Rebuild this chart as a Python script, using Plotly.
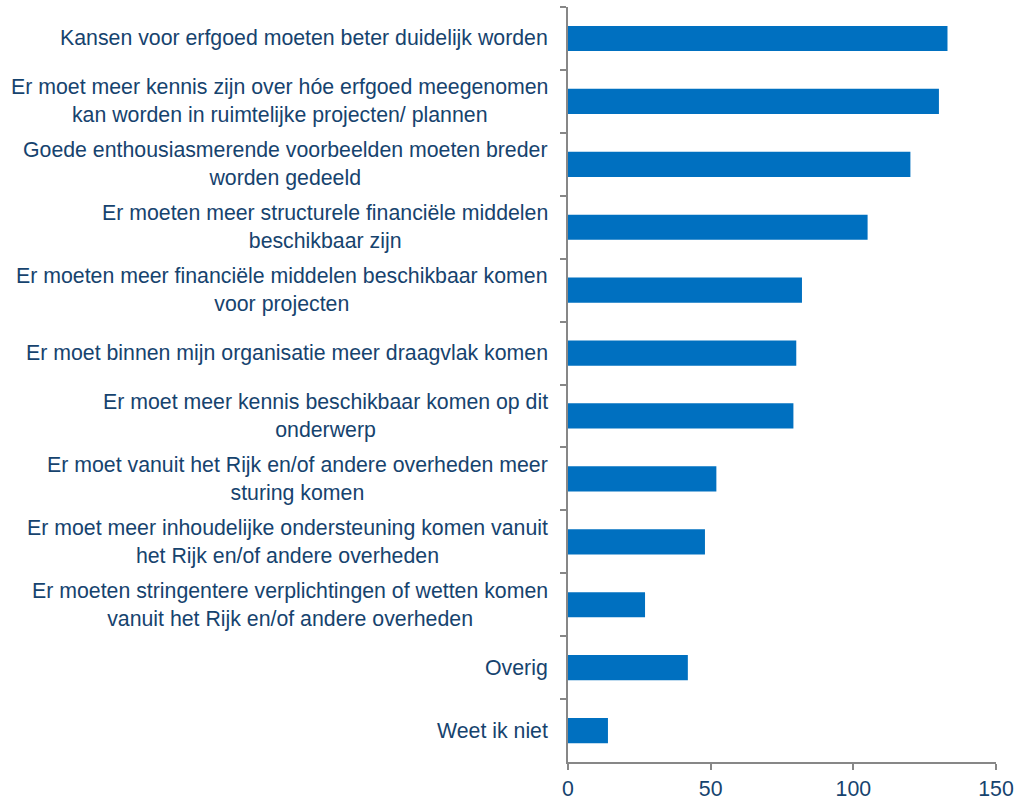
import plotly.graph_objects as go

categories = [
    "Kansen voor erfgoed moeten beter duidelijk worden",
    "Er moet meer kennis zijn over hóe erfgoed meegenomen<br>kan worden in ruimtelijke projecten/ plannen",
    "Goede enthousiasmerende voorbeelden moeten breder<br>worden gedeeld",
    "Er moeten meer structurele financiële middelen<br>beschikbaar zijn",
    "Er moeten meer financiële middelen beschikbaar komen<br>voor projecten",
    "Er moet binnen mijn organisatie meer draagvlak komen",
    "Er moet meer kennis beschikbaar komen op dit<br>onderwerp",
    "Er moet vanuit het Rijk en/of andere overheden meer<br>sturing komen",
    "Er moet meer inhoudelijke ondersteuning komen vanuit<br>het Rijk en/of andere overheden",
    "Er moeten stringentere verplichtingen of wetten komen<br>vanuit het Rijk en/of andere overheden",
    "Overig",
    "Weet ik niet",
]
values = [133, 130, 120, 105, 82, 80, 79, 52, 48, 27, 42, 14]
x_ticks = [0, 50, 100, 150]

TEXT = "#16436E"
BAR = "#0070C0"
AXIS = "#878787"
FONT = "Liberation Sans, Arial, sans-serif"
FS = 21.3

fig = go.Figure(go.Bar(
    x=values, y=categories, orientation="h",
    marker=dict(color=BAR, line=dict(width=0)),
    width=0.4,
    hoverinfo="skip",
))

for c in categories:
    fig.add_annotation(
        x=0, xref="paper", y=c, yref="y",
        text=c, showarrow=False, xanchor="right", yanchor="middle",
        xshift=-18, align="center",
        font=dict(family=FONT, size=FS, color=TEXT),
    )

fig.update_layout(
    width=1023, height=798,
    margin=dict(l=568, r=27, t=7, b=36),
    paper_bgcolor="white", plot_bgcolor="white",
    showlegend=False,
    font=dict(family=FONT, size=FS, color=TEXT),
)
fig.update_xaxes(
    range=[0, 150], tickvals=x_ticks, ticktext=[str(v) for v in x_ticks],
    showgrid=False, zeroline=False, showline=True, linecolor=AXIS, linewidth=2,
    ticks="outside", ticklen=6, tickcolor=AXIS, tickwidth=2,
    tickfont=dict(family=FONT, size=FS, color=TEXT),
    automargin=False,
)
fig.update_yaxes(
    categoryorder="array", categoryarray=categories, autorange="reversed",
    showticklabels=False, showgrid=False, zeroline=False,
    showline=True, linecolor=AXIS, linewidth=2,
    ticks="outside", ticklen=6, tickcolor=AXIS, tickwidth=2,
    tickson="boundaries",
    automargin=False,
)

fig.write_html(
    "out.html",
    config={"displayModeBar": False},
    post_script="document.body.style.margin='0';document.body.style.overflow='hidden';",
)
